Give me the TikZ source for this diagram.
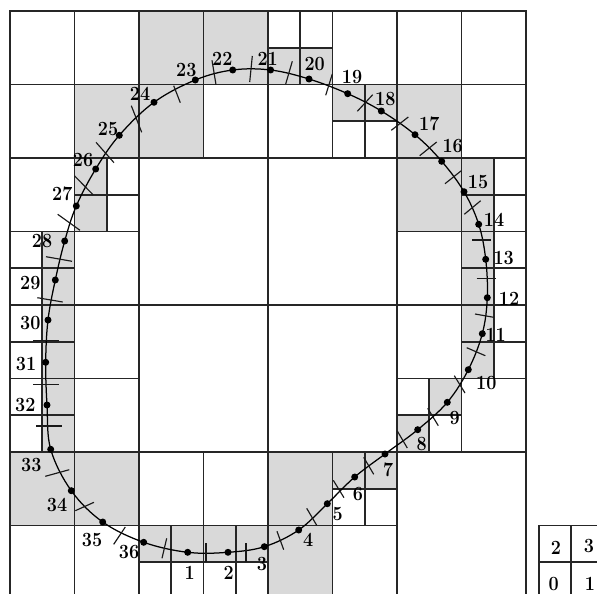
\documentclass[tikz,border=0pt]{standalone}
\colorlet{cellgray}{black!15}
\tikzset{
  cellbox/.style={draw=black!85,line width=1.55pt},
  graycell/.style={cellbox,fill=cellgray},
  mark dot/.style={circle,fill=black,inner sep=0pt,minimum size=7pt},
  ticklabel/.style={inner sep=0pt,font=\fontsize{18}{19}\selectfont\bfseries,yscale=1.12,transform shape},
  tickmark/.style={draw=black!90,line width=1.15pt},
  curveline/.style={draw=black,line width=1.25pt}
}
\begin{document}
\begin{tikzpicture}[x=1pt,y=-1pt]
\useasboundingbox (0,0) rectangle (597,594);
\clip (0,0) rectangle (597,594);
\fill[white] (0,0) rectangle (597,594);
\begin{scope}[shift={(10,11)},x=32.25pt,y=-36.75pt]
  \foreach \i/\j in {0/0,2/0,10/0,12/0,14/0,0/2,6/2,8/2,14/2,0/4,2/6,12/6,2/8,12/8,2/10,14/10,4/12,6/12,0/14,2/14,10/14}
    \draw[cellbox] (\i,\j) rectangle ++(2,2);
  \foreach \i/\j in {4/0,6/0,2/2,4/2,12/2,12/4,0/12,2/12,8/12,8/14}
    \draw[graycell] (\i,\j) rectangle ++(2,2);
  \foreach \i/\j in {8/0,9/0,10/3,11/3,3/4,3/5,15/4,15/5,15/6,15/7,15/8,15/9,0/6,0/7,0/8,0/9,0/10,0/11,12/10,13/11,10/13,11/13,4/15,5/15,6/15,7/15}
    \draw[cellbox] (\i,\j) rectangle ++(1,1);
  \foreach \i/\j in {8/1,9/1,10/2,11/2,2/4,2/5,14/4,14/5,14/6,14/7,14/8,14/9,1/6,1/7,1/8,1/9,1/10,1/11,13/10,12/11,10/12,11/12,4/14,5/14,6/14,7/14}
    \draw[graycell] (\i,\j) rectangle ++(1,1);
  \foreach \i/\j in {4/4,8/4,4/8,8/8,12/12}
    \draw[cellbox] (\i,\j) rectangle ++(4,4);
\end{scope}
\foreach \x/\y in {539/525.5,571.25/525.5,539/562.25,571.25/562.25}
  \draw[cellbox] (\x,\y) rectangle ++(32.25,36.75);
% points on the curve
\foreach \n/\x/\y in {1/187.7/552.3,2/228/552.3,3/264.3/546.7,4/298.7/530,5/327.3/503.7,6/354.7/477,7/385/454,8/417.7/429.7,9/447.3/402.3,10/468.3/369.7,11/482.3/333.7,12/487.3/297.7,13/485.7/259.3,14/478.7/224.3,15/464/191.7,16/441.7/161.3,17/415/134.7,18/381.3/111,19/347.7/93.7,20/309/79,21/270.6/70,22/232.7/70,23/195.3/80,24/154/102.3,25/119.3/135.3,26/95.7/169,27/76.3/206,28/64.7/241,29/55.3/280,30/48/320,31/45.7/362.3,32/47/405,33/50.7/449.3,34/71.3/490.7,35/102.7/522,36/143.7/542.3}
  \node[mark dot] (d\n) at (\x,\y) {};
\draw[curveline] plot[smooth cycle,tension=0.6] coordinates {(d1.center) (d2.center) (d3.center) (d4.center) (d5.center) (d6.center) (d7.center) (d8.center) (d9.center) (d10.center) (d11.center) (d12.center) (d13.center) (d14.center) (d15.center) (d16.center) (d17.center) (d18.center) (d19.center) (d20.center) (d21.center) (d22.center) (d23.center) (d24.center) (d25.center) (d26.center) (d27.center) (d28.center) (d29.center) (d30.center) (d31.center) (d32.center) (d33.center) (d34.center) (d35.center) (d36.center)};
% tick marks
\foreach \n/\xa/\ya/\xb/\yb in {1/166.7/538.3/162/558.3,2/206/543/206/562.3,3/246/543/246/561.7,4/277/531.3/283.7/549.7,5/306.7/508.3/316.7/525.3,6/333.3/480.3/344/497.7,7/363.7/457.3/373.7/474.3,8/397.3/431/407.3/448,9/427.7/408.3/438.3/425.7,10/454.3/375.7/465/393,11/466.7/347.7/485.3/355.7,12/475/314/493.7/317.3,13/476.7/278.3/495.7/278.3,14/472.3/240/491.3/240,15/464.3/214.3/480.7/200.7,16/445/183.7/461.3/170.7,17/419.7/155.7/436.7/142,18/391.3/130.3/408.3/117,19/357.3/111.3/372.7/94.7,20/325.7/95.3/332.3/74,21/285.7/84/292.3/61.3,22/249.7/82/252.3/56,23/212/60.3/216/84.7,24/173.7/85.7/180.3/102.7,25/131.3/105.7/141.7/132.3,26/96/142.3/114/162.7,27/74.7/176/93.3/195,28/57.7/214.3/80/230.3,29/46/256.7/72/261.3,30/37.3/297.7/62.7/302,31/33.3/340.7/59/340.7,32/33.3/384.7/59/384.7,33/36/426/61.7/426,34/45.3/476.3/69.3/469.7,35/75.3/510.7/94/502.3,36/113.7/544.3/125.3/527}
{
  \coordinate (ta\n) at (\xa,\ya);
  \coordinate (tb\n) at (\xb,\yb);
  \draw[tickmark] (ta\n) -- (tb\n);
}
% labels
\foreach \n/\x/\y in {1/189.7/573.3,2/228.7/573.3,3/262/564.3,4/308.3/540,5/337.7/514.3,6/358/494,7/388.3/469.7,8/421.7/443.7,9/454.7/417.7,10/486.3/383,11/495.7/335.3,12/509/298.7,13/503.7/258.3,14/494/220.3,15/478/182.3,16/452.7/146.3,17/429.3/123.7,18/385.3/99,19/352/77,20/314.7/64.3,21/267.7/59,22/222.3/59,23/186.3/70,24/140/94.3,25/108/129.3,26/83/159.7,27/62.3/194.3,28/42/241.3,29/30.3/283,30/30.3/323.3,31/26/364,32/25.3/405,33/31.3/464.7,34/57/505.3,35/92/540.3,36/129/552.3}
  \node[ticklabel] (l\n) at (\x,\y) {\n};
\node[ticklabel] (k2) at (556,548) {2};
\node[ticklabel] (k3) at (589,546.3) {3};
\node[ticklabel] (k0) at (553.7,584) {0};
\node[ticklabel] (k1) at (590,584) {1};
\end{tikzpicture}
\end{document}
